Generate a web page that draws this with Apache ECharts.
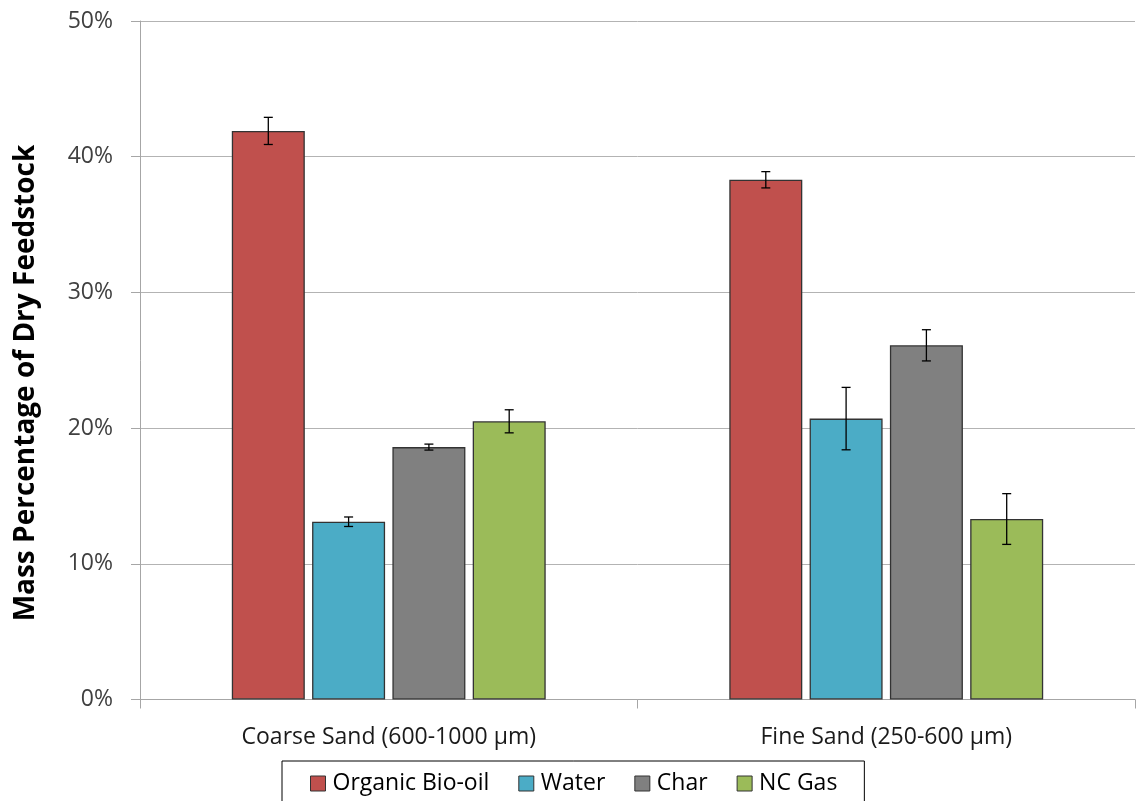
<!DOCTYPE html>
<html>
<head>
<meta charset="utf-8">
<script src="https://cdn.jsdelivr.net/npm/echarts@6/dist/echarts.min.js"></script>
<style>
html,body{margin:0;padding:0;background:#fff;}
#chart{width:1138px;height:801px;}
</style>
</head>
<body>
<div id="chart"></div>
<script>
const categories = ['Coarse Sand (600-1000 µm)', 'Fine Sand (250-600 µm)'];
const seriesNames = ['Organic Bio-oil', 'Water', 'Char', 'NC Gas'];
const bioOil = [41.9, 38.3];
const water = [13.1, 20.7];
const charVals = [18.6, 26.1];
const ncGas = [20.5, 13.3];
const bioOilErr = [1.0, 0.6];
const waterErr = [0.35, 2.3];
const charErr = [0.22, 1.15];
const ncGasErr = [0.85, 1.87];
const yTicks = [0, 10, 20, 30, 40, 50];
const yTitle = 'Mass Percentage of Dry Feedstock';

const colors = ['#C0504D', '#4BACC6', '#808080', '#9BBB59'];
const values = [bioOil, water, charVals, ncGas];
const errs = [bioOilErr, waterErr, charErr, ncGasErr];
const BAR_W = 73;
const GAP = BAR_W * 0.1;
const sans = "'Open Sans', sans-serif";

const chart = echarts.init(document.getElementById('chart'));
const series = [];
values.forEach((v, i) => {
  series.push({
    name: seriesNames[i],
    type: 'bar',
    data: v,
    barWidth: BAR_W,
    barGap: '10%',
    itemStyle: { color: colors[i], borderColor: '#333', borderWidth: 1.3 },
    z: 2
  });
});
values.forEach((v, i) => {
  series.push({
    name: 'err' + i,
    type: 'custom',
    z: 5,
    data: v.map((val, j) => [j, val, errs[i][j]]),
    encode: { x: 0, y: 1 },
    renderItem: function (params, api) {
      const c = api.value(0), val = api.value(1), e = api.value(2);
      const off = (i - 1.5) * (BAR_W + GAP);
      const hi = api.coord([c, val + e]);
      const lo = api.coord([c, val - e]);
      const x = hi[0] + off;
      const cap = 4.5;
      const st = { stroke: '#000', lineWidth: 1.3 };
      return {
        type: 'group',
        children: [
          { type: 'line', shape: { x1: x, y1: hi[1], x2: x, y2: lo[1] }, style: st },
          { type: 'line', shape: { x1: x - cap, y1: hi[1], x2: x + cap, y2: hi[1] }, style: st },
          { type: 'line', shape: { x1: x - cap, y1: lo[1], x2: x + cap, y2: lo[1] }, style: st }
        ]
      };
    }
  });
});

chart.setOption({
  animation: false,
  backgroundColor: '#fff',
  grid: { left: 140, right: 3, top: 21, bottom: 101.5, containLabel: false },
  xAxis: {
    type: 'category',
    data: categories,
    axisLine: { lineStyle: { color: '#a6a6a6', width: 1 } },
    axisTick: { show: true, length: 9, lineStyle: { color: '#a6a6a6' } },
    axisLabel: { color: '#1a1a1a', fontSize: 23, fontFamily: sans, margin: 26 }
  },
  yAxis: {
    type: 'value',
    min: yTicks[0],
    max: yTicks[yTicks.length - 1],
    interval: 10,
    axisLine: { show: true, lineStyle: { color: '#a6a6a6', width: 1 } },
    axisTick: { show: true, length: 9, lineStyle: { color: '#a6a6a6' } },
    splitLine: { lineStyle: { color: '#b3b3b3', width: 1 } },
    axisLabel: { formatter: '{value}%', color: '#404040', fontSize: 23, fontFamily: sans, margin: 27 }
  },
  legend: {
    data: seriesNames,
    left: 282,
    top: 761,
    padding: [11, 27, 30, 28],
    borderColor: '#000',
    borderWidth: 1,
    itemWidth: 15,
    itemHeight: 15,
    itemGap: 29,
    icon: 'rect',
    itemStyle: { borderColor: '#333', borderWidth: 1 },
    textStyle: { color: '#000', fontSize: 23, fontFamily: sans, padding: [0, 0, 0, 2] }
  },
  graphic: [{
    type: 'text',
    x: 26,
    y: 383,
    rotation: Math.PI / 2,
    style: {
      text: yTitle,
      fontSize: 28,
      fontWeight: 'bold',
      fontFamily: sans,
      fill: '#000',
      align: 'center',
      verticalAlign: 'middle'
    }
  }],
  series: series
});
</script>
</body>
</html>
